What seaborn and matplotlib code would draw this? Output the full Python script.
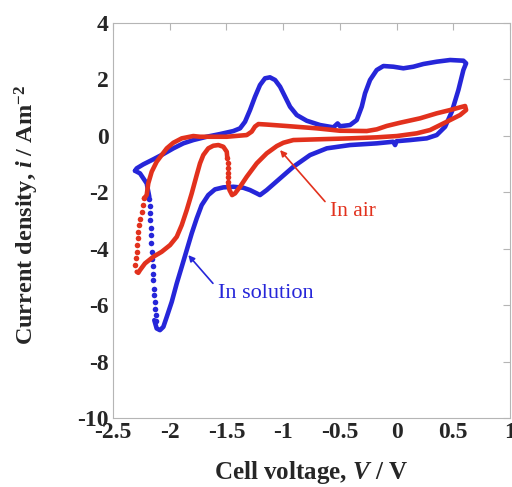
import matplotlib
matplotlib.use('Agg')
import matplotlib.pyplot as plt
import seaborn as sns

# Cyclic voltammograms
# "In solution" (blue): solid trace, from the negative vertex round to the cathodic peak
sol_v = [-2.306, -2.291, -2.233, -2.145, -2.056, -1.968, -1.880, -1.792, -1.674, -1.556,
         -1.439, -1.380, -1.336, -1.292, -1.248, -1.204, -1.160, -1.116, -1.071, -1.027,
         -0.983, -0.939, -0.880, -0.792, -0.675, -0.557, -0.520, -0.498, -0.410, -0.351,
         -0.307, -0.278, -0.234, -0.175, -0.116, -0.028, 0.060, 0.148, 0.236, 0.354,
         0.472, 0.589, 0.613, 0.589, 0.545, 0.487, 0.428, 0.354, 0.266, 0.119,
         0.000, -0.013, -0.030, -0.175, -0.410, -0.615, -0.763, -0.910, -1.027, -1.145,
         -1.204, -1.233, -1.292, -1.351, -1.439, -1.527, -1.601, -1.660, -1.718, -1.762,
         -1.806, -1.850, -1.894, -1.938, -1.982, -2.026, -2.056, -2.086, -2.115, -2.136]
sol_i = [-1.238, -1.152, -1.011, -0.833, -0.645, -0.443, -0.266, -0.149, -0.032, 0.064,
         0.170, 0.266, 0.500, 0.915, 1.387, 1.801, 2.039, 2.074, 1.979, 1.741,
         1.387, 1.032, 0.738, 0.535, 0.383, 0.301, 0.440, 0.340, 0.383, 0.560,
         1.032, 1.507, 1.979, 2.333, 2.475, 2.450, 2.394, 2.450, 2.546, 2.628,
         2.688, 2.663, 2.571, 2.333, 1.624, 0.855, 0.323, 0.028, -0.089, -0.149,
         -0.190, -0.326, -0.209, -0.266, -0.326, -0.443, -0.681, -1.096, -1.507, -1.922,
         -2.099, -2.039, -1.922, -1.840, -1.805, -1.826, -1.897, -2.099, -2.454, -2.926,
         -3.457, -4.050, -4.642, -5.230, -5.883, -6.415, -6.770, -6.887, -6.826, -6.532]
# sparse dots where the current changes fast near the negative vertex
sol_dot_v = [-2.180, -2.176, -2.175, -2.170, -2.168, -2.165, -2.162, -2.158, -2.153,
             -2.150, -2.146, -2.143, -2.140, -2.136, -2.132, -2.128, -2.122, -2.118]
sol_dot_i = [-2.25, -2.50, -2.73, -3.00, -3.27, -3.52, -3.80, -4.10, -4.38,
             -4.62, -4.88, -5.12, -5.42, -5.65, -5.89, -6.12, -6.36, -6.55]
sol_end_v = [-2.180, -2.203, -2.262, -2.306]
sol_end_i = [-2.160, -1.684, -1.330, -1.238]

# "In air" (red): solid trace
air_v = [-2.227, -2.203, -2.189, -2.159, -2.115, -2.071, -2.026, -1.968, -1.894, -1.792,
         -1.733, -1.497, -1.321, -1.277, -1.248, -1.218, -1.145, -0.968, -0.704, -0.498,
         -0.263, -0.175, -0.087, 0.031, 0.207, 0.354, 0.472, 0.560, 0.604, 0.613,
         0.560, 0.472, 0.384, 0.295, 0.178, 0.002, -0.175, -0.410, -0.704, -0.910,
         -0.998, -1.056, -1.145, -1.233, -1.321, -1.380, -1.424, -1.450, -1.473, -1.483]
air_i = [-2.220, -2.099, -1.684, -1.273, -0.918, -0.681, -0.443, -0.245, -0.089, -0.007,
         -0.032, -0.032, 0.028, 0.150, 0.330, 0.418, 0.400, 0.348, 0.266, 0.181,
         0.170, 0.230, 0.350, 0.465, 0.621, 0.798, 0.915, 1.011, 1.057, 0.915,
         0.738, 0.560, 0.383, 0.206, 0.089, -0.007, -0.053, -0.089, -0.124, -0.149,
         -0.245, -0.362, -0.621, -0.975, -1.450, -1.805, -2.039, -2.100, -1.920, -1.745]
air_dot1_v = [-1.485, -1.486, -1.487, -1.488, -1.490, -1.492]
air_dot1_i = [-1.62, -1.46, -1.30, -1.13, -0.965, -0.80]
air_mid_v = [-1.492, -1.497, -1.527, -1.571, -1.616, -1.660, -1.704, -1.733, -1.762, -1.806,
             -1.850, -1.894, -1.938, -1.997, -2.071, -2.145, -2.218, -2.262, -2.277, -2.291]
air_mid_i = [-0.800, -0.564, -0.387, -0.326, -0.351, -0.443, -0.681, -0.975, -1.390, -2.039,
             -2.631, -3.163, -3.578, -3.872, -4.110, -4.287, -4.521, -4.759, -4.855, -4.819]
air_dot2_v = [-2.306, -2.300, -2.291, -2.286, -2.282, -2.277, -2.268, -2.262, -2.247,
              -2.238, -2.227]
air_dot2_i = [-4.58, -4.34, -4.11, -3.87, -3.63, -3.40, -3.16, -2.93, -2.69,
              -2.45, -2.22]

blue = '#2626d9'
red = '#e2311d'

sns.set_style('white')
plt.rcParams['font.family'] = ['Liberation Serif', 'DejaVu Serif']
plt.rcParams['mathtext.fontset'] = 'custom'
plt.rcParams['mathtext.rm'] = 'Liberation Serif:bold'
plt.rcParams['mathtext.it'] = 'Liberation Serif:italic:bold'
plt.rcParams['mathtext.bf'] = 'Liberation Serif:bold'

fig = plt.figure(figsize=(5.12, 4.87), dpi=100)
ax = fig.add_axes([0.2207, 0.1417, 0.7754, 0.8111])

line_kw = dict(sort=False, estimator=None, lw=3.3, solid_capstyle='round',
               solid_joinstyle='round', ax=ax)
sns.lineplot(x=sol_v, y=sol_i, color=blue, **line_kw)
sns.lineplot(x=sol_end_v, y=sol_end_i, color=blue, **line_kw)
sns.scatterplot(x=sol_dot_v, y=sol_dot_i, color=blue, s=16, linewidth=0, ax=ax)
sns.lineplot(x=air_v, y=air_i, color=red, **line_kw)
sns.lineplot(x=air_mid_v, y=air_mid_i, color=red, **line_kw)
sns.scatterplot(x=air_dot1_v, y=air_dot1_i, color=red, s=16, linewidth=0, ax=ax)
sns.scatterplot(x=air_dot2_v, y=air_dot2_i, color=red, s=16, linewidth=0, ax=ax)

ax.set_xlim(-2.5, 1)
ax.set_ylim(-10, 4)
ax.set_xticks([-2.5, -2, -1.5, -1, -0.5, 0, 0.5, 1])
ax.set_xticklabels(['-2.5', '-2', '-1.5', '-1', '-0.5', '0', '0.5', '1'])
ax.set_yticks([-10, -8, -6, -4, -2, 0, 2, 4])
ax.set_yticklabels(['-10', '-8', '-6', '-4', '-2', '0', '2', '4'])
ax.tick_params(direction='in', length=5, width=0.8, color='#b5b5b5',
               top=True, right=True, labelsize=17, pad=3)
for lab in ax.get_xticklabels() + ax.get_yticklabels():
    lab.set_fontweight('bold')
for sp in ax.spines.values():
    sp.set_color('#b5b5b5')
    sp.set_linewidth(0.8)

ax.set_xlabel(r'Cell voltage, $\mathit{V}$ / V', fontsize=18, fontweight='bold')
ax.set_ylabel(r'Current density, $\mathit{i}$ / Am$^{-2}$', fontsize=17.5,
              fontweight='bold')
ax.xaxis.label.set_va('center')
ax.xaxis.set_label_coords(0.5, -0.139)
ax.yaxis.label.set_va('center')
ax.yaxis.set_label_coords(-0.217, 0.515)

ax.annotate('In air', xy=(-1.027, -0.504), xytext=(-0.586, -2.67), color=red,
            fontsize=15.5, va='center', ha='left',
            arrowprops=dict(arrowstyle='-|>', color=red, lw=1.2, mutation_scale=9,
                            shrinkA=2, shrinkB=0, relpos=(0, 0.7)))
ax.annotate('In solution', xy=(-1.836, -4.227), xytext=(-1.574, -5.57), color=blue,
            fontsize=16, va='center', ha='left',
            arrowprops=dict(arrowstyle='-|>', color=blue, lw=1.2, mutation_scale=9,
                            shrinkA=2, shrinkB=0, relpos=(0, 0.7)))

plt.savefig('out.png', dpi=100)
plt.close()
